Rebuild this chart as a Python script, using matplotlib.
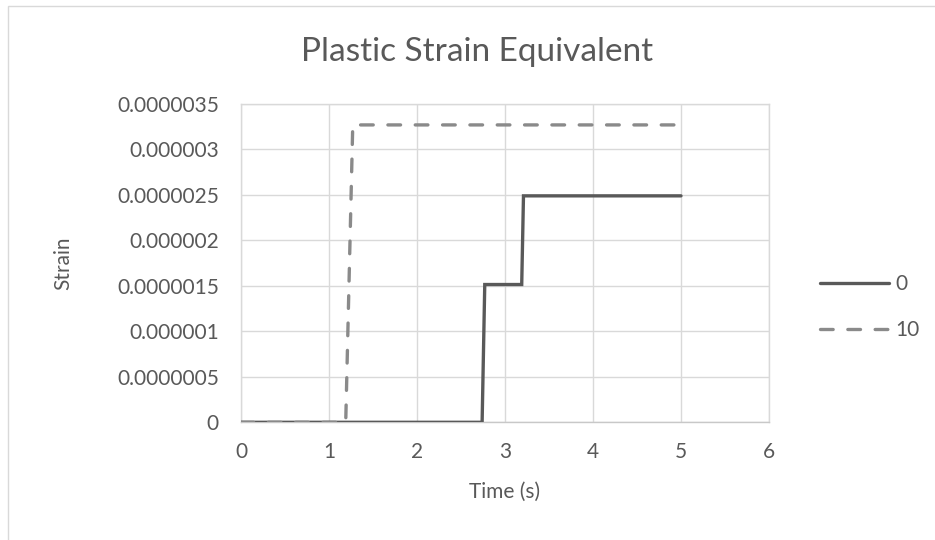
import matplotlib
matplotlib.use("Agg")
import matplotlib.pyplot as plt
from matplotlib.patches import Rectangle
from matplotlib.ticker import FixedLocator, FixedFormatter

# Data
t_0 = [0, 2.74, 2.77, 3.19, 3.21, 5]
strain_0 = [0, 0, 1.515e-6, 1.515e-6, 2.49e-6, 2.49e-6]
t_10 = [0, 1.19, 1.27, 5]
strain_10 = [0, 0, 3.27e-6, 3.27e-6]
series_names = ["0", "10"]
x_ticks = [0, 1, 2, 3, 4, 5, 6]
y_ticks = [0, 5e-7, 1e-6, 1.5e-6, 2e-6, 2.5e-6, 3e-6, 3.5e-6]
y_tick_labels = ["0", "0.0000005", "0.000001", "0.0000015", "0.000002",
                 "0.0000025", "0.000003", "0.0000035"]

W, H = 935, 540
plt.rcParams['font.family'] = ['Lato', 'DejaVu Sans']
fig = plt.figure(figsize=(W / 100, H / 100), dpi=100)
fig.patch.set_facecolor('white')

# chart border (light), only left and top edges visible in the crop
fig.patches.append(Rectangle((8 / W, -0.5), 2, 1.5 - 6 / H, transform=fig.transFigure,
                             fill=False, edgecolor='#d9d9d9', linewidth=1))

left, right, top, bottom = 241, 769, 104, 422.3
ax = fig.add_axes([left / W, (H - bottom) / H, (right - left) / W, (bottom - top) / H])

text_color = '#595959'
grid_color = '#d9d9d9'
fs = 15

ax.plot(t_0, strain_0, color='#595959', linewidth=2.4, solid_capstyle='round',
        solid_joinstyle='miter', label=series_names[0], zorder=3)
ax.plot(t_10, strain_10, color='#8a8a8a', linewidth=2.4, linestyle=(0, (3.8, 4.4)),
        dash_capstyle='round', dash_joinstyle='round', label=series_names[1], zorder=3)

ax.set_xlim(0, 6)
ax.set_ylim(0, 3.5e-6)
ax.xaxis.set_major_locator(FixedLocator(x_ticks))
ax.yaxis.set_major_locator(FixedLocator(y_ticks))
ax.yaxis.set_major_formatter(FixedFormatter(y_tick_labels))
ax.grid(True, color=grid_color, linewidth=1)
ax.set_axisbelow(True)
for s in ax.spines.values():
    s.set_color(grid_color)
    s.set_linewidth(1)
ax.spines['bottom'].set_color('#c8c8c8')
ax.tick_params(length=0, labelsize=fs, colors=text_color)
ax.tick_params(axis='y', pad=16)
ax.tick_params(axis='x', pad=14)

ax.set_xlabel("Time (s)", fontsize=fs, color=text_color)
ax.set_ylabel("Strain", fontsize=fs, color=text_color)
ax.xaxis.set_label_coords(505 / W, 1 - 492 / H, transform=fig.transFigure)
ax.yaxis.set_label_coords(63 / W, 1 - 263 / H, transform=fig.transFigure)
ax.xaxis.label.set_va('center')
ax.yaxis.label.set_va('center')
fig.text(477 / W, 1 - 52 / H, "Plastic Strain Equivalent", ha='center', va='center',
         fontsize=24, color=text_color)

leg = ax.legend(loc='center left', bbox_to_anchor=(810 / W, 1 - 307 / H),
                bbox_transform=fig.transFigure, frameon=False, fontsize=fs,
                handlelength=3.3, handletextpad=0.3, labelspacing=1.25,
                labelcolor=text_color, borderpad=0)

fig.savefig("out.png", dpi=100, facecolor='white')
